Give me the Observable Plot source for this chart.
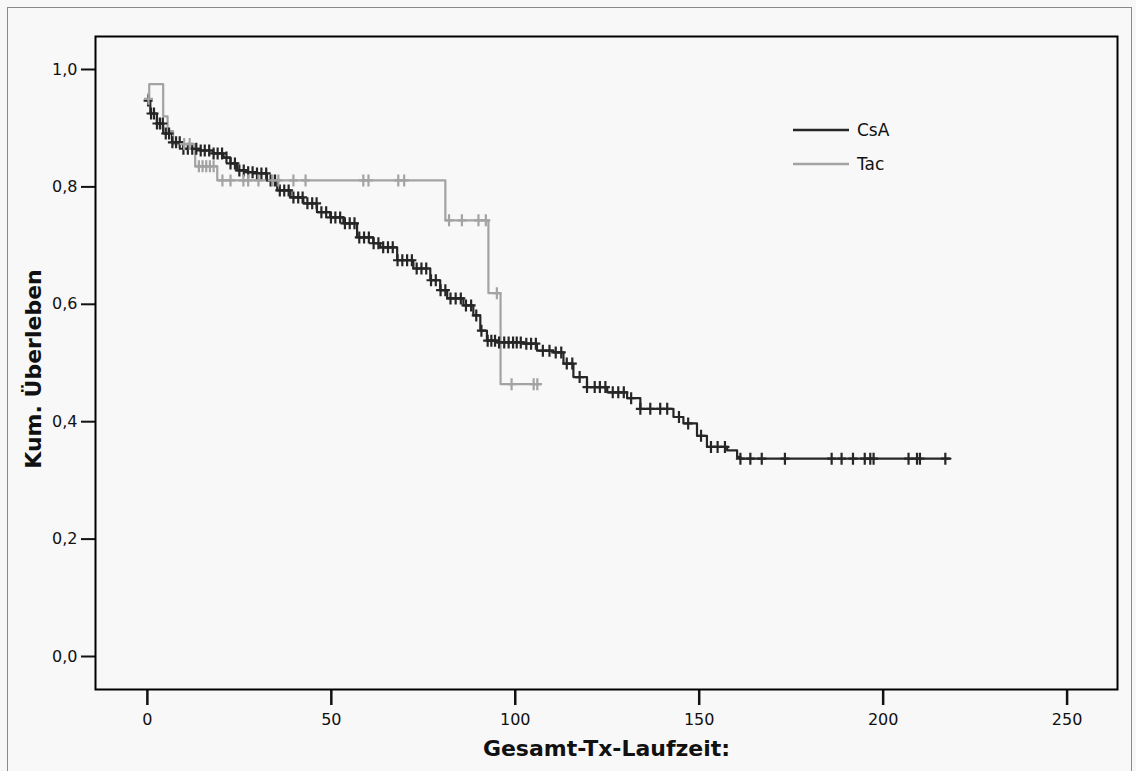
<!DOCTYPE html>
<html>
<head>
<meta charset="utf-8">
<script src="https://cdn.jsdelivr.net/npm/d3@7"></script>
<script src="https://cdn.jsdelivr.net/npm/@observablehq/plot@0.6"></script>
<style>
  html, body { margin: 0; padding: 0; background: #f8f8f8; }
  #page { position: relative; width: 1136px; height: 771px; overflow: hidden; background: #f8f8f8; }
  #border { position: absolute; left: 7px; top: 7px; width: 1125px; height: 800px; border: 1px solid #8a8a8a; box-sizing: border-box; }
  #chart { position: absolute; left: 0; top: 0; }
  #legend { position: absolute; left: 0; top: 0; }
</style>
</head>
<body>
<div id="page">
  <div id="border"></div>
  <div id="chart"></div>
  <svg id="legend" width="1136" height="771"></svg>
</div>
<script>
// Kaplan-Meier step points for the CsA group (time, cumulative survival)
const csaTime = [0, 0.8, 2.6, 4.3, 6.7, 9.8, 14.4, 17.9, 20.7, 22.6, 24.4, 27.1, 29.8, 32.5, 35.3,
  38.9, 42.4, 46.1, 49.7, 53.3, 57.0, 61.4, 63.3, 67.9, 72.3, 76.9, 79.6, 81.5, 85.9, 88.6,
  90.5, 92.3, 95.1, 102.2, 105.9, 110.4, 113.1, 115.8, 119.5, 125.0, 130.4, 134.0, 143.0, 145.7, 149.4,
  152.1, 157.6, 160.3, 161.2, 218.3];
const csaSurv = [0.947, 0.925, 0.908, 0.891, 0.876, 0.865, 0.862, 0.857, 0.850, 0.840, 0.828, 0.825, 0.823, 0.811, 0.794,
  0.782, 0.772, 0.757, 0.748, 0.738, 0.714, 0.704, 0.697, 0.675, 0.661, 0.641, 0.624, 0.610, 0.598, 0.581,
  0.555, 0.538, 0.535, 0.533, 0.521, 0.518, 0.499, 0.476, 0.459, 0.450, 0.440, 0.422, 0.408, 0.397, 0.376,
  0.357, 0.351, 0.340, 0.337, 0.337];
// Censored observations in the CsA group (times)
const csaCensor = [0.2, 1.0, 1.8, 2.6, 3.4, 4.2, 5.0, 5.9, 6.8, 7.8, 8.8, 9.8, 11.0, 12.2, 13.3, 14.5, 15.6,
  16.8, 18.0, 19.1, 20.3, 21.5, 22.6, 23.8, 25.0, 26.2, 27.4, 28.6, 29.8, 31.0, 32.3, 33.5, 34.7, 36.0,
  37.2, 38.4, 39.7, 41.0, 42.2, 43.5, 44.8, 46.0, 47.3, 48.6, 49.9, 51.1, 52.4, 53.7, 55.0, 56.3, 57.6,
  58.9, 60.2, 61.5, 62.8, 64.1, 65.4, 66.7, 68.0, 69.3, 70.6, 71.9, 73.2, 74.5, 75.8, 77.1, 78.4, 79.7,
  81.0, 82.4, 83.8, 85.2, 86.6, 88.0, 89.4, 90.8, 92.5, 93.5, 94.5, 95.6, 97.0, 98.2, 99.4, 100.4, 101.5,
  103.0, 104.3, 105.6, 107.5, 109.3, 111.0, 112.5, 114.0, 115.5, 117.5, 119.5, 121.6, 123.0, 124.5, 126.5,
  128.0, 129.5, 131.5, 134.0, 136.7, 139.4, 141.3, 144.5, 147.0, 150.5, 153.2, 155.0, 157.0, 161.2, 163.9,
  167.0, 173.3, 186.0, 188.7, 191.8, 195.0, 196.5, 197.4, 206.9, 209.2, 210.0, 216.9];

// Kaplan-Meier step points for the Tac group
const tacTime = [0, 0.5, 4.3, 5.5, 7.0, 13.0, 19.0, 81.0, 92.7, 96.0, 107.0];
const tacSurv = [0.950, 0.975, 0.920, 0.895, 0.873, 0.835, 0.811, 0.743, 0.619, 0.464, 0.464];
// Censored observations in the Tac group
const tacCensor = [0.3, 10.0, 11.5, 14.0, 15.0, 16.0, 17.0, 18.0, 20.4, 22.6, 26.1, 27.4, 30.2, 34.0,
  35.6, 39.7, 43.0, 58.7, 60.1, 68.2, 69.8, 82.0, 85.5, 90.0, 92.0, 95.0, 99.0, 105.0, 106.0];

const groups = ["CsA", "Tac"];
const groupColors = ["#262626", "#a3a3a3"];
const xTicks = [0, 50, 100, 150, 200, 250];
const yTicks = [0, 0.2, 0.4, 0.6, 0.8, 1.0];

// survival value of a step function at time t
function survAt(times, surv, t) {
  const i = d3.bisectRight(times, t) - 1;
  return surv[Math.max(0, i)];
}

const curves = [
  ...csaTime.map((t, i) => ({t, s: csaSurv[i], group: "CsA"})),
  ...tacTime.map((t, i) => ({t, s: tacSurv[i], group: "Tac"}))
];
const censored = [
  ...csaCensor.map(t => ({t, s: survAt(csaTime, csaSurv, t), group: "CsA"})),
  ...tacCensor.map(t => ({t, s: survAt(tacTime, tacSurv, t), group: "Tac"}))
];

// censor marker: tall vertical stroke crossing a short horizontal one
const censorMark = {
  draw(context) {
    context.moveTo(-4.5, 0); context.lineTo(4.5, 0);
    context.moveTo(0, -6); context.lineTo(0, 6);
  }
};

const comma = d => d.toFixed(1).replace(".", ",");

const chart = Plot.plot({
  width: 1136,
  height: 771,
  marginLeft: 95,
  marginRight: 19,
  marginTop: 36,
  marginBottom: 82,
  style: {background: "transparent", fontFamily: "DejaVu Sans, sans-serif", fontSize: "16px", color: "#111"},
  x: {domain: [-14.1, 263.7]},
  y: {domain: [-0.0562, 1.0562]},
  color: {domain: groups, range: groupColors},
  marks: [
    Plot.line(curves, {x: "t", y: "s", z: "group", stroke: "group", curve: "step-after", strokeWidth: 2.2}),
    Plot.dot(censored, {x: "t", y: "s", stroke: "group", symbol: censorMark, strokeWidth: 2.2, r: 5}),
    Plot.axisX({ticks: xTicks, tickSize: 16, tickPadding: 8, strokeWidth: 2.5, label: null, fontSize: 16}),
    Plot.axisY({ticks: yTicks, tickSize: 14, tickPadding: 4, tickFormat: comma, strokeWidth: 2, label: null, fontSize: 16}),
    Plot.frame({stroke: "#000", strokeWidth: 2}),
    Plot.text(["Gesamt-Tx-Laufzeit:"], {frameAnchor: "bottom", dy: 59, lineAnchor: "middle", textAnchor: "middle",
      fontSize: 22, fontWeight: "bold", fill: "#111"}),
    Plot.text(["Kum. Überleben"], {frameAnchor: "left", dx: -62, dy: 6, rotate: -90, lineAnchor: "middle", textAnchor: "middle",
      fontSize: 22, fontWeight: "bold", fill: "#111"})
  ]
});
document.getElementById("chart").appendChild(chart);

// legend in the upper right of the plot area
const legend = d3.select("#legend");
groups.forEach((g, i) => {
  const y = 130 + i * 34;
  legend.append("line").attr("x1", 793).attr("x2", 849).attr("y1", y).attr("y2", y)
    .attr("stroke", groupColors[i]).attr("stroke-width", 2.5);
  legend.append("text").attr("x", 857).attr("y", y).attr("dy", "0.35em")
    .attr("font-family", "DejaVu Sans, sans-serif").attr("font-size", 17).attr("fill", "#111").text(g);
});
</script>
</body>
</html>
